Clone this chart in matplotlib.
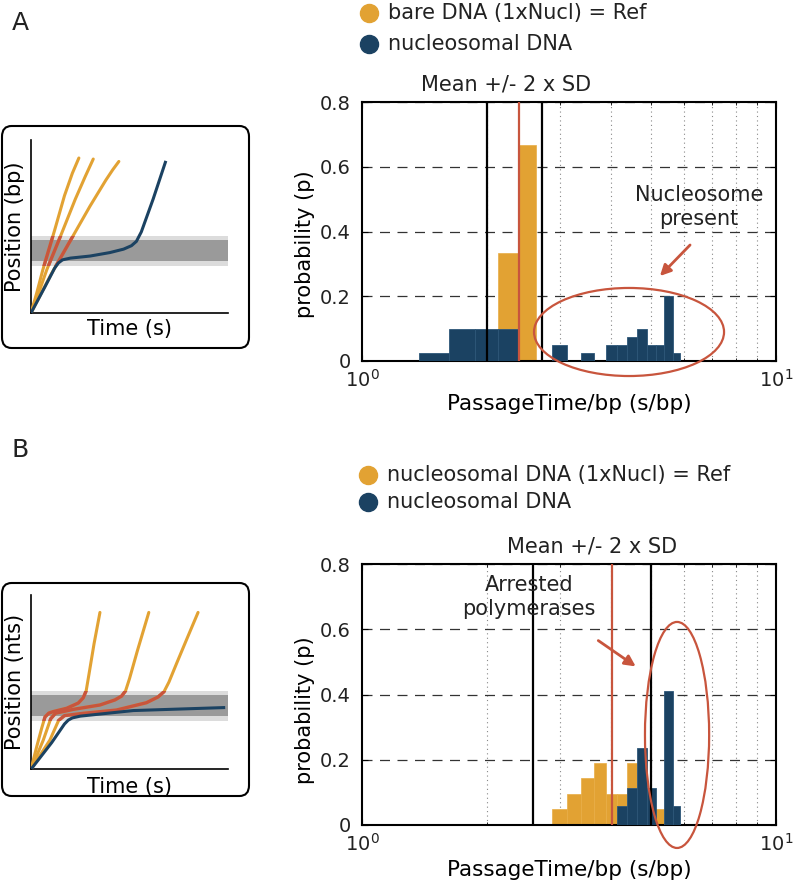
import matplotlib
matplotlib.use("Agg")
import matplotlib.pyplot as plt
from matplotlib.patches import Ellipse, Rectangle, FancyBboxPatch
from matplotlib.lines import Line2D
from matplotlib.ticker import FixedLocator, NullFormatter

ORANGE = "#e2a233"
NAVY = "#1b4262"
RED = "#c8553d"
TXT = "#222222"

# histogram data: bin centres (s/bp) and probabilities
bins_a_ref = [2.25, 2.5]
prob_a_ref = [0.333, 0.667]
bins_a_nuc = [1.5, 1.75, 2.0, 2.25, 3.0, 3.5, 4.0, 4.25, 4.5, 4.75, 5.0, 5.25, 5.5, 5.75]
prob_a_nuc = [0.024, 0.1, 0.1, 0.1, 0.048, 0.024, 0.048, 0.048, 0.073, 0.098, 0.048, 0.048, 0.2, 0.024]

bins_b_ref = [3.0, 3.25, 3.5, 3.75, 4.0, 4.25, 4.5, 4.75, 5.0, 5.25]
prob_b_ref = [0.048, 0.095, 0.143, 0.19, 0.095, 0.095, 0.19, 0.048, 0.048, 0.048]
bins_b_nuc = [4.25, 4.5, 4.75, 5.0, 5.5, 5.75]
prob_b_nuc = [0.057, 0.114, 0.235, 0.114, 0.41, 0.057]

sd_a = [2.0, 2.72]
mean_a = 2.4
sd_b = [2.59, 4.98]
mean_b = 4.02

yticks = [0, 0.2, 0.4, 0.6, 0.8]
ytick_labels = ["0", "0.2", "0.4", "0.6", "0.8"]

# schematic trajectories (normalised time, position)
sch_a_orange = [
    ([0, 0.03, 0.06, 0.12, 0.17, 0.21, 0.243], [0, 0.12, 0.25, 0.48, 0.68, 0.81, 0.898]),
    ([0, 0.04, 0.08, 0.155, 0.225, 0.275, 0.316], [0, 0.12, 0.25, 0.46, 0.66, 0.79, 0.892]),
    ([0, 0.05, 0.1, 0.2, 0.3, 0.38, 0.415, 0.446], [0, 0.11, 0.22, 0.42, 0.62, 0.77, 0.83, 0.878]),
]
sch_a_navy = ([0, 0.07, 0.12, 0.139, 0.16, 0.2, 0.3, 0.4, 0.47, 0.51, 0.535, 0.56, 0.62, 0.682],
              [0, 0.15, 0.26, 0.29, 0.308, 0.318, 0.33, 0.35, 0.37, 0.39, 0.415, 0.47, 0.66, 0.873])
band_a = (0.274, 0.448, 0.299, 0.421)

sch_b_orange = [
    ([0, 0.029, 0.054, 0.071, 0.09, 0.113, 0.181, 0.24, 0.265, 0.28, 0.295, 0.32, 0.35],
     [0, 0.13, 0.235, 0.3, 0.322, 0.331, 0.35, 0.38, 0.41, 0.45, 0.55, 0.72, 0.90]),
    ([0, 0.0625, 0.1, 0.125, 0.215, 0.35, 0.426, 0.46, 0.48, 0.50, 0.54, 0.598],
     [0, 0.168, 0.29, 0.322, 0.344, 0.369, 0.398, 0.42, 0.45, 0.52, 0.68, 0.90]),
    ([0, 0.096, 0.14, 0.17, 0.265, 0.434, 0.586, 0.645, 0.675, 0.70, 0.74, 0.79, 0.848],
     [0, 0.168, 0.28, 0.308, 0.321, 0.34, 0.382, 0.415, 0.445, 0.50, 0.61, 0.745, 0.90]),
]
sch_b_navy = ([0, 0.105, 0.17, 0.189, 0.21, 0.25, 0.35, 0.519, 0.978],
              [0, 0.153, 0.26, 0.282, 0.295, 0.305, 0.317, 0.337, 0.354])
band_b = (0.279, 0.449, 0.306, 0.426)

W, H = 796, 884
plt.rcParams["font.family"] = "DejaVu Sans"
plt.rcParams["text.color"] = TXT
fig = plt.figure(figsize=(W / 100, H / 100), dpi=100)


def fx(x):
    return x / W


def fy(y):
    return 1 - y / H


def hist_panel(ax, rx, rp, nx, npb, sd, mean, title_x):
    ax.set_xscale("log")
    ax.bar(rx, rp, width=0.25, color=ORANGE, edgecolor="#e8ad45", lw=0.5, zorder=2)
    ax.bar(nx, npb, width=0.25, color=NAVY, edgecolor="#2d5678", lw=0.6, zorder=3)
    for v in sd:
        ax.axvline(v, color="black", lw=1.6, zorder=4)
    ax.axvline(mean, color=RED, lw=1.6, zorder=4)
    ax.set_xlim(1, 10)
    ax.set_ylim(0, 0.8)
    ax.set_yticks(yticks)
    ax.set_yticklabels(ytick_labels)
    ax.xaxis.set_major_locator(FixedLocator([1, 10]))
    ax.xaxis.set_minor_locator(FixedLocator([2, 3, 4, 5, 6, 7, 8, 9]))
    ax.xaxis.set_minor_formatter(NullFormatter())
    ax.set_axisbelow(True)
    ax.grid(which="minor", axis="x", ls=(0, (1, 3)), color="#888888", lw=0.8)
    ax.grid(which="major", axis="y", ls=(0, (8, 6)), color="#333333", lw=0.9)
    ax.tick_params(which="both", direction="in", top=True, right=True,
                   labelsize=14, labelcolor=TXT)
    ax.tick_params(which="major", length=4)
    ax.tick_params(which="minor", length=2)
    ax.tick_params(axis="y", pad=8)
    ax.tick_params(axis="x", pad=6)
    for s in ax.spines.values():
        s.set_linewidth(1.5)
    ax.set_ylabel("probability (p)", fontsize=15, va="center")
    ax.set_xlabel("PassageTime/bp (s/bp)", fontsize=15.5)
    ax.text(title_x, 1.066, "Mean +/- 2 x SD", transform=ax.transAxes,
            ha="center", va="center", fontsize=15)


def schematic(ax, orange, navy, band, ylab, tlab_y):
    lo, hi, dlo, dhi = band
    ax.axhspan(lo, hi, color="#dcdcdc", lw=0, zorder=1)
    ax.axhspan(dlo, dhi, color="#9a9a9a", lw=0, zorder=1)
    clip = Rectangle((0, lo), 1, hi - lo, transform=ax.transData)
    for xs, ys in orange:
        ax.plot(xs, ys, color=ORANGE, lw=2.2, zorder=3, solid_capstyle="round",
                solid_joinstyle="round")
        ln, = ax.plot(xs, ys, color=RED, lw=2.4, zorder=4, solid_capstyle="round",
                      solid_joinstyle="round")
        ln.set_clip_path(clip)
    ax.plot(navy[0], navy[1], color=NAVY, lw=2.2, zorder=5, solid_joinstyle="round")
    ax.set_xlim(0, 1)
    ax.set_ylim(0, 1)
    ax.set_xticks([])
    ax.set_yticks([])
    ax.spines["top"].set_visible(False)
    ax.spines["right"].set_visible(False)
    ax.spines["left"].set_linewidth(1.2)
    ax.spines["bottom"].set_linewidth(1.2)
    ax.set_ylabel(ylab, fontsize=15, va="center")
    ax.yaxis.set_label_coords(-0.081, 0.5)
    ax.set_xlabel("Time (s)", fontsize=15)
    ax.xaxis.set_label_coords(0.5, tlab_y)
    ax.xaxis.label.set_va("center")


# ---- panel A ----
ax_a = fig.add_axes([fx(362), fy(361), fx(414), 259 / H])
hist_panel(ax_a, bins_a_ref, prob_a_ref, bins_a_nuc, prob_a_nuc, sd_a, mean_a, 0.348)
ax_a.yaxis.set_label_coords(-0.138, 0.45)
ax_a.xaxis.set_label_coords(0.5, -0.166)
ax_a.xaxis.label.set_va("center")
ax_a.add_patch(Ellipse((0.645, 0.112), 0.459, 0.34, transform=ax_a.transAxes,
                       fill=False, ec=RED, lw=1.6, clip_on=False, zorder=6))
fig.text(fx(699), fy(207), "Nucleosome\npresent", ha="center", va="center",
         fontsize=15, linespacing=1.2)
ax_a.annotate("", xy=(658, H - 278), xytext=(692, H - 243),
              xycoords="figure pixels", textcoords="figure pixels",
              arrowprops=dict(arrowstyle="-|>", color=RED, lw=2, mutation_scale=16))

box_a = FancyBboxPatch((fx(2), fy(348)), fx(247), 222 / H, transform=fig.transFigure,
                       boxstyle="round,pad=0,rounding_size=0.012", fill=False,
                       ec="black", lw=1.5)
fig.add_artist(box_a)
sa = fig.add_axes([fx(31), fy(313), fx(197), 172.6 / H])
schematic(sa, sch_a_orange, sch_a_navy, band_a, "Position (bp)", -0.093)

fig.text(fx(20), fy(23), "A", ha="center", va="center", fontsize=18)
fig.add_artist(Line2D([fx(369)], [fy(13)], marker="o", ms=13, color=ORANGE,
                      transform=fig.transFigure))
fig.text(fx(388), fy(13), "bare DNA (1xNucl) = Ref", va="center", fontsize=15)
fig.add_artist(Line2D([fx(369)], [fy(44)], marker="o", ms=13, color=NAVY,
                      transform=fig.transFigure))
fig.text(fx(388), fy(44), "nucleosomal DNA", va="center", fontsize=15)

# ---- panel B ----
ax_b = fig.add_axes([fx(362), fy(825), fx(414), 261 / H])
hist_panel(ax_b, bins_b_ref, prob_b_ref, bins_b_nuc, prob_b_nuc, sd_b, mean_b, 0.556)
ax_b.yaxis.set_label_coords(-0.138, 0.44)
ax_b.xaxis.set_label_coords(0.5, -0.172)
ax_b.xaxis.label.set_va("center")
ax_b.add_patch(Ellipse((0.761, 0.345), 0.155, 0.866, transform=ax_b.transAxes,
                       fill=False, ec=RED, lw=1.6, clip_on=False, zorder=6))
fig.text(fx(529), fy(597), "Arrested\npolymerases", ha="center", va="center",
         fontsize=15, linespacing=1.2)
ax_b.annotate("", xy=(638, H - 668), xytext=(596, H - 639),
              xycoords="figure pixels", textcoords="figure pixels",
              arrowprops=dict(arrowstyle="-|>", color=RED, lw=2, mutation_scale=16))

box_b = FancyBboxPatch((fx(2), fy(796)), fx(247), 213 / H, transform=fig.transFigure,
                       boxstyle="round,pad=0,rounding_size=0.012", fill=False,
                       ec="black", lw=1.5)
fig.add_artist(box_b)
sb = fig.add_axes([fx(31), fy(769.3), fx(197), 174.3 / H])
schematic(sb, sch_b_orange, sch_b_navy, band_b, "Position (nts)", -0.10)

fig.text(fx(20), fy(450), "B", ha="center", va="center", fontsize=18)
fig.add_artist(Line2D([fx(368)], [fy(475)], marker="o", ms=13, color=ORANGE,
                      transform=fig.transFigure))
fig.text(fx(387), fy(475), "nucleosomal DNA (1xNucl) = Ref", va="center", fontsize=15)
fig.add_artist(Line2D([fx(368)], [fy(502)], marker="o", ms=13, color=NAVY,
                      transform=fig.transFigure))
fig.text(fx(387), fy(502), "nucleosomal DNA", va="center", fontsize=15)

fig.savefig("out.png", dpi=100)
